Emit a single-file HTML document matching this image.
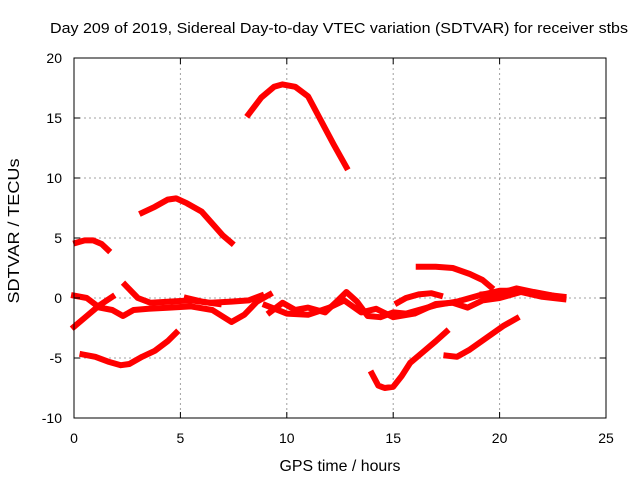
<!DOCTYPE html>
<html><head><meta charset="utf-8"><style>
html,body{margin:0;padding:0;background:#fff;}
svg{display:block;font-family:"Liberation Sans",sans-serif;}
</style></head><body>
<svg id="chart" width="640" height="480">
<text x="339" y="33" font-size="15" text-anchor="middle" textLength="578" lengthAdjust="spacingAndGlyphs">Day 209 of 2019, Sidereal Day-to-day VTEC variation (SDTVAR) for receiver stbs</text>
<text x="340" y="471" font-size="16" text-anchor="middle" textLength="121" lengthAdjust="spacingAndGlyphs">GPS time / hours</text>
<text transform="translate(19,231) rotate(-90)" font-size="16" text-anchor="middle" textLength="145" lengthAdjust="spacingAndGlyphs">SDTVAR / TECUs</text>
<g id="grid"></g><g id="series"></g><g id="axes"></g>
</svg>
<script>
const xTicks=[0,5,10,15,20,25];
const yTicks=[-10,-5,0,5,10,15,20];
const seriesA=[[0.1,4.6],[0.5,4.8],[0.9,4.8],[1.3,4.5],[1.6,4.0]];
const seriesB=[[3.2,7.1],[3.8,7.6],[4.4,8.2],[4.8,8.3],[5.3,7.9],[6,7.2],[6.6,6.0],[7.0,5.2],[7.4,4.6]];
const seriesC=[[8.2,15.3],[8.8,16.7],[9.4,17.6],[9.8,17.8],[10.4,17.6],[11,16.8],[11.6,14.8],[12.2,12.8],[12.8,10.9]];
const seriesD=[[16.2,2.6],[17,2.6],[17.8,2.5],[18.6,2.0],[19.2,1.5],[19.6,0.9]];
const seriesE=[[0.4,-4.7],[1.0,-4.9],[1.6,-5.3],[2.2,-5.6],[2.6,-5.5],[3.2,-4.9],[3.8,-4.4],[4.4,-3.6],[4.8,-2.9]];
const seriesF=[[14.0,-6.3],[14.3,-7.3],[14.6,-7.5],[15.0,-7.4],[15.4,-6.5],[15.8,-5.4],[16.4,-4.5],[17.0,-3.6],[17.5,-2.8]];
const seriesG=[[17.5,-4.8],[18,-4.9],[18.6,-4.3],[19.4,-3.3],[20.2,-2.3],[20.8,-1.7]];
const seriesH=[[15.2,-0.4],[15.6,0.0],[16.2,0.3],[16.8,0.4],[17.2,0.2]];
const seriesM1=[[0,-2.4],[0.6,-1.5],[1.2,-0.6],[1.8,0.1]];
const seriesM2=[[0,0.2],[0.6,0],[1.2,-0.8],[1.8,-1.0],[2.3,-1.5],[2.8,-1.0],[3.5,-0.9],[4.5,-0.8],[5.5,-0.7],[6.5,-1.0],[7.4,-2.0],[8,-1.4],[8.6,-0.3],[9.2,0.3]];
const seriesM3=[[2.4,1.1],[3,0],[3.6,-0.4],[4.5,-0.3],[5.5,-0.2],[6.4,-0.4],[7.4,-0.3],[8.2,-0.2],[8.8,0.2]];
const seriesM4=[[5.3,0],[6,-0.3],[6.8,-0.5]];
const seriesM5=[[9.2,-1.2],[9.8,-0.4],[10.4,-1.0],[11,-0.8],[11.8,-1.2],[12.4,-0.2],[12.8,0.5],[13.3,-0.3],[13.8,-1.5],[14.4,-1.6],[15,-1.2],[15.6,-1.3],[16.2,-1.0],[17,-0.6],[18,-0.3],[19,0.2],[20,0.6],[21,0.6],[22,0.3],[23,0.1]];
const seriesM6=[[9.0,-0.6],[10,-1.3],[11,-1.4],[12,-0.8],[12.7,-0.2],[13.5,-1.2],[14.2,-0.9],[15,-1.6],[16,-1.3],[17,-0.5],[17.8,-0.4],[18.5,-0.8],[19.2,-0.2],[20,0],[21,0.5],[22,0.1],[23,-0.1]];
const seriesM7=[[19.2,0.3],[20,0.4],[20.8,0.8],[21.6,0.5],[22.5,0.2],[22.9,0]];
const allSeries=[seriesA,seriesB,seriesC,seriesD,seriesE,seriesF,seriesG,seriesH,seriesM1,seriesM2,seriesM3,seriesM4,seriesM5,seriesM6,seriesM7];

const L=74,R=606,T=58,B=418,X0=0,X1=25,Y0=-10,Y1=20;
function sx(v){return L+(v-X0)/(X1-X0)*(R-L);}
function sy(v){return B-(v-Y0)/(Y1-Y0)*(B-T);}
const NS="http://www.w3.org/2000/svg";
function mk(t,a,p){const e=document.createElementNS(NS,t);for(const k in a)e.setAttribute(k,a[k]);p.appendChild(e);return e;}
const grid=document.getElementById('grid'),axes=document.getElementById('axes'),ser=document.getElementById('series');
xTicks.forEach(t=>{
  const x=sx(t);
  if(t>X0&&t<X1){const g=mk('line',{x1:x,y1:T,x2:x,y2:B,stroke:'#a0a0a0','stroke-dasharray':'2,3'},grid);
  
  }
  mk('line',{x1:x,y1:B,x2:x,y2:B-6,stroke:'#000'},axes);
  mk('line',{x1:x,y1:T,x2:x,y2:T+6,stroke:'#000'},axes);
  const tx=mk('text',{x:x,y:B+25,'font-size':14,'text-anchor':'middle'},axes);tx.textContent=t;
  
  
});
yTicks.forEach(t=>{
  const y=sy(t);
  if(t>Y0&&t<Y1){const g=mk('line',{x1:L,y1:y,x2:R,y2:y,stroke:'#a0a0a0','stroke-dasharray':'2,3'},grid);
  
  }
  mk('line',{x1:L,y1:y,x2:L+6,y2:y,stroke:'#000'},axes);
  mk('line',{x1:R,y1:y,x2:R-6,y2:y,stroke:'#000'},axes);
  const tx=mk('text',{x:L-12,y:y+5,'font-size':14,'text-anchor':'end'},axes);tx.textContent=t;
  
  
});
const border=mk('rect',{x:L,y:T,width:R-L,height:B-T,fill:'none',stroke:'#000'},axes);


allSeries.forEach((s,i)=>{
  const p=mk('polyline',{points:s.map(d=>sx(d[0])+','+sy(d[1])).join(' '),fill:'none',stroke:'#ff0000','stroke-width':6,'stroke-linejoin':'round','stroke-linecap':'square'},ser);
  
  
});
</script>
</body></html>
